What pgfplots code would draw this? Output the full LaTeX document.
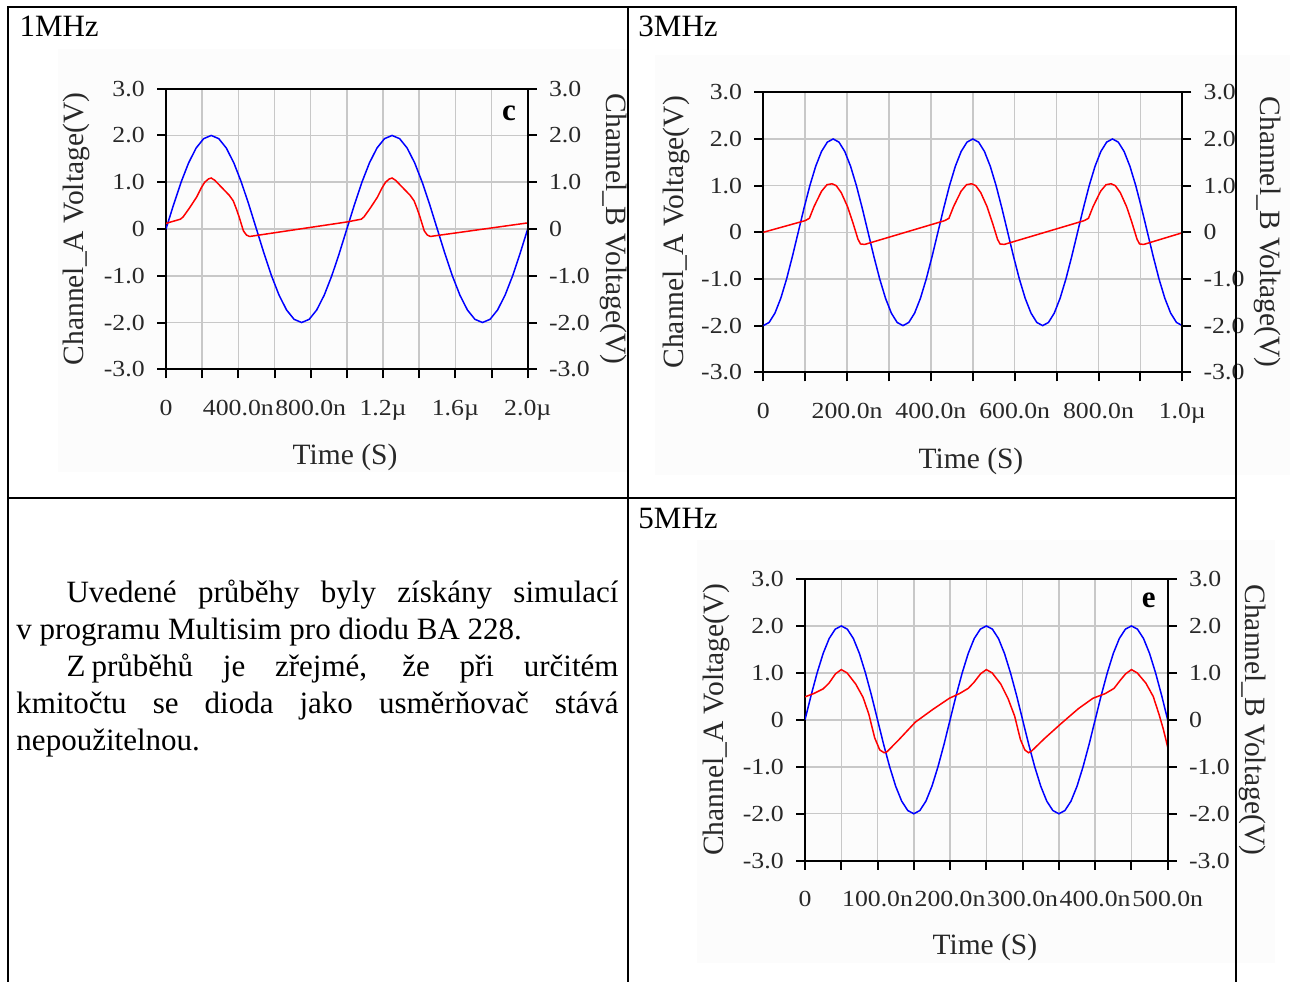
\documentclass[border=0pt]{standalone}
\usepackage{fontspec}
\setmainfont{Liberation Serif}
\newfontfamily\tickfont[FakeStretch=1.12]{Liberation Serif}
\usepackage{pgfplots}
\pgfplotsset{compat=1.18}
\definecolor{gridc}{RGB}{200,200,200}
\definecolor{bgc}{RGB}{252,252,252}
\definecolor{colA}{RGB}{0,0,255}
\definecolor{colB}{RGB}{255,0,0}
\definecolor{txt}{RGB}{40,40,40}

\pgfplotsset{
  base/.style={scale only axis, ymin=-3, ymax=3,
    ytick={-3,-2,-1,0,1,2,3},
    yticklabels={-3.0,-2.0,-1.0,0,1.0,2.0,3.0},
    tick align=outside, major tick length=3.6pt,
    every tick/.style={black, line width=0.8pt},
    axis line style={black, line width=0.8pt},
    tick label style={font=\tickfont\fontsize{9.2}{10}\selectfont, text=txt},
    label style={font=\fontsize{11.8}{13}\selectfont, text=txt},
    xticklabel shift=5.2pt, yticklabel shift=1.4pt,
  },
  mainax/.style={base, grid=major, grid style={gridc, line width=0.6pt},
    tick pos=left},
  secax/.style={base, axis x line=none, axis y line*=right},
  lineA/.style={colA, line width=0.6pt, mark=none},
  lineB/.style={colB, line width=0.6pt, mark=none},
}

\pgfplotstableread{
t v
0 0
41.7 0.518
83.3 1.0
125 1.414
166.7 1.732
208.3 1.932
250 2.0
291.7 1.932
333.3 1.732
375 1.414
416.7 1.0
458.3 0.518
500 0
541.7 -0.518
583.3 -1.0
625 -1.414
666.7 -1.732
708.3 -1.932
750 -2.0
791.7 -1.932
833.3 -1.732
875 -1.414
916.7 -1.0
958.3 -0.518
1000 0
1041.7 0.518
1083.3 1.0
1125 1.414
1166.7 1.732
1208.3 1.932
1250 2.0
1291.7 1.932
1333.3 1.732
1375 1.414
1416.7 1.0
1458.3 0.518
1500 0
1541.7 -0.518
1583.3 -1.0
1625 -1.414
1666.7 -1.732
1708.3 -1.932
1750 -2.0
1791.7 -1.932
1833.3 -1.732
1875 -1.414
1916.7 -1.0
1958.3 -0.518
2000 0
}\Aone

\pgfplotstableread{
t v
0 0.12
80 0.21
95 0.26
130 0.45
169 0.68
195 0.88
214 1.0
235 1.07
250 1.09
270 1.04
315 0.86
350 0.72
372 0.60
390 0.42
405 0.25
428 -0.04
445 -0.13
462 -0.16
480 -0.15
1000 0.15
1080 0.21
1095 0.26
1130 0.45
1169 0.68
1195 0.88
1214 1.0
1235 1.07
1250 1.09
1270 1.04
1315 0.86
1350 0.72
1372 0.60
1390 0.42
1405 0.25
1428 -0.04
1445 -0.13
1462 -0.16
1480 -0.15
2000 0.13
}\Bone

\pgfplotstableread{
t v
0 -2.0
13.9 -1.932
27.8 -1.732
41.7 -1.414
55.6 -1.0
69.4 -0.518
83.3 0
97.2 0.518
111.1 1.0
125 1.414
138.9 1.732
152.8 1.932
166.7 2.0
180.6 1.932
194.4 1.732
208.3 1.414
222.2 1.0
236.1 0.518
250 0
263.9 -0.518
277.8 -1.0
291.7 -1.414
305.6 -1.732
319.4 -1.932
333.3 -2.0
347.2 -1.932
361.1 -1.732
375 -1.414
388.9 -1.0
402.8 -0.518
416.7 0
430.6 0.518
444.4 1.0
458.3 1.414
472.2 1.732
486.1 1.932
500 2.0
513.9 1.932
527.8 1.732
541.7 1.414
555.6 1.0
569.4 0.518
583.3 0
597.2 -0.518
611.1 -1.0
625 -1.414
638.9 -1.732
652.8 -1.932
666.7 -2.0
680.6 -1.932
694.4 -1.732
708.3 -1.414
722.2 -1.0
736.1 -0.518
750 0
763.9 0.518
777.8 1.0
791.7 1.414
805.6 1.732
819.4 1.932
833.3 2.0
847.2 1.932
861.1 1.732
875 1.414
888.9 1.0
902.8 0.518
916.7 0
930.6 -0.518
944.4 -1.0
958.3 -1.414
972.2 -1.732
986.1 -1.932
1000 -2.0
}\Athree

\pgfplotstableread{
t v
0 0.0
100 0.25
110 0.30
121 0.55
139 0.88
152 1.02
164 1.04
174 1.00
186 0.85
201 0.55
214 0.20
226 -0.15
232 -0.25
242 -0.26
433 0.25
443 0.30
454 0.55
472 0.88
485 1.02
497 1.04
507 1.00
519 0.85
534 0.55
547 0.20
559 -0.15
565 -0.25
575 -0.26
766 0.25
776 0.30
787 0.55
805 0.88
818 1.02
830 1.04
840 1.00
852 0.85
867 0.55
880 0.20
892 -0.15
898 -0.25
908 -0.26
1000 -0.01
}\Bthree

\pgfplotstableread{
t v
0 0
8.3 0.518
16.7 1.0
25 1.414
33.3 1.732
41.7 1.932
50 2.0
58.3 1.932
66.7 1.732
75 1.414
83.3 1.0
91.7 0.518
100 0
108.3 -0.518
116.7 -1.0
125 -1.414
133.3 -1.732
141.7 -1.932
150 -2.0
158.3 -1.932
166.7 -1.732
175 -1.414
183.3 -1.0
191.7 -0.518
200 0
208.3 0.518
216.7 1.0
225 1.414
233.3 1.732
241.7 1.932
250 2.0
258.3 1.932
266.7 1.732
275 1.414
283.3 1.0
291.7 0.518
300 0
308.3 -0.518
316.7 -1.0
325 -1.414
333.3 -1.732
341.7 -1.932
350 -2.0
358.3 -1.932
366.7 -1.732
375 -1.414
383.3 -1.0
391.7 -0.518
400 0
408.3 0.518
416.7 1.0
425 1.414
433.3 1.732
441.7 1.932
450 2.0
458.3 1.932
466.7 1.732
475 1.414
483.3 1.0
491.7 0.518
500 0
}\Afive

\pgfplotstableread{
t v
0 0.49
12 0.56
25 0.66
33 0.78
42 0.98
50 1.07
58 1.0
70 0.76
80 0.48
88 0.12
96 -0.38
103 -0.64
109 -0.70
113 -0.68
129 -0.43
152 -0.05
176 0.22
199 0.46
213 0.56
225 0.67
233 0.80
242 0.98
250 1.07
258 1.0
270 0.76
280 0.45
289 0.08
297 -0.42
303 -0.64
308 -0.70
312 -0.67
330 -0.40
353 -0.08
377 0.24
397 0.46
414 0.56
426 0.67
435 0.85
442 0.98
450 1.07
458 1.0
470 0.78
480 0.50
488 0.12
494 -0.20
500 -0.58
}\Bfive

\begin{document}
\begin{tikzpicture}
\useasboundingbox (0,0) rectangle (516.4pt,-392.8pt);
\begin{scope}[x=0.4pt,y=-0.4pt]
  \fill[bgc] (58,49) rectangle (627,472);
  \fill[bgc] (655,55) rectangle (1290,475);
  \fill[bgc] (697,540) rectangle (1275,963);
\end{scope}

% ---------- 1 MHz ----------
\begin{axis}[mainax, at={(66.4pt,-35.48pt)}, anchor=north west,
  width=144.68pt, height=112.24pt, xmin=0, xmax=2000,
  xtick={0,200,...,2000},
  xticklabels={0,{},400.0n,{},800.0n,{},1.2µ,{},1.6µ,{},2.0µ},
  xlabel={Time (S)}, ylabel={Channel\_A Voltage(V)},
  xlabel style={at={(axis description cs:0.495,-0.315)}, anchor=center},
  ylabel style={at={(axis description cs:-0.247,0.5)}, anchor=center}]
  \addplot[lineA] table[x=t,y=v] {\Aone};
  \addplot[lineB] table[x=t,y=v] {\Bone};
  \node[font=\bfseries\fontsize{12.4}{14}\selectfont] at (axis description cs:0.948,0.913) {c};
\end{axis}
\begin{axis}[secax, at={(66.4pt,-35.48pt)}, anchor=north west,
  width=144.68pt, height=112.24pt, xmin=0, xmax=2000,
  ylabel={Channel\_B Voltage(V)},
  ylabel style={at={(axis description cs:1.2386,0.5)}, anchor=center, rotate=180}]
\end{axis}

% ---------- 3 MHz ----------
\begin{axis}[mainax, at={(305.32pt,-36.92pt)}, anchor=north west,
  width=167.6pt, height=112pt, xmin=0, xmax=1000,
  xtick={0,100,...,1000},
  xticklabels={0,{},200.0n,{},400.0n,{},600.0n,{},800.0n,{},1.0µ},
  xlabel={Time (S)}, ylabel={Channel\_A Voltage(V)},
  xlabel style={at={(axis description cs:0.4957,-0.318)}, anchor=center},
  ylabel style={at={(axis description cs:-0.2084,0.5)}, anchor=center}]
  \addplot[lineA] table[x=t,y=v] {\Athree};
  \addplot[lineB] table[x=t,y=v] {\Bthree};
\end{axis}
\begin{axis}[secax, at={(305.32pt,-36.92pt)}, anchor=north west,
  width=167.6pt, height=112pt, xmin=0, xmax=1000,
  ylabel={Channel\_B Voltage(V)},
  ylabel style={at={(axis description cs:1.2045,0.5)}, anchor=center, rotate=180}]
\end{axis}

% ---------- 5 MHz ----------
\begin{axis}[mainax, at={(322pt,-231.6pt)}, anchor=north west,
  width=145.08pt, height=112.68pt, xmin=0, xmax=500,
  xtick={0,50,...,500},
  xticklabels={0,{},100.0n,{},200.0n,{},300.0n,{},400.0n,{},500.0n},
  xlabel={Time (S)}, ylabel={Channel\_A Voltage(V)},
  xlabel style={at={(axis description cs:0.496,-0.308)}, anchor=center},
  ylabel style={at={(axis description cs:-0.245,0.5)}, anchor=center}]
  \addplot[lineA] table[x=t,y=v] {\Afive};
  \addplot[lineB] table[x=t,y=v] {\Bfive};
  \node[font=\bfseries\fontsize{12.4}{14}\selectfont] at (axis description cs:0.948,0.925) {e};
\end{axis}
\begin{axis}[secax, at={(322pt,-231.6pt)}, anchor=north west,
  width=145.08pt, height=112.68pt, xmin=0, xmax=500,
  ylabel={Channel\_B Voltage(V)},
  ylabel style={at={(axis description cs:1.235,0.5)}, anchor=center, rotate=180}]
\end{axis}

\begin{scope}[x=0.4pt,y=-0.4pt]
  \draw[line width=0.8pt] (8.5,982) -- (8.5,7) -- (1236.5,7) -- (1236.5,982);
  \draw[line width=0.8pt] (628.5,7) -- (628.5,982);
  \draw[line width=0.8pt] (8.5,498.5) -- (1236.5,498.5);
  \begin{scope}[every node/.style={anchor=base west, inner sep=0pt, font=\fontsize{12.4}{14}\selectfont}]
    \node at (19,37) {1MHz};
    \node at (638,37) {3MHz};
    \node at (638,529) {5MHz};
    \node at (66,603) {\makebox[220.8pt][s]{Uvedené průběhy byly získány simulací}};
    \node at (16,640) {v programu Multisim pro diodu BA 228.};
    \node at (66,677) {\makebox[220.8pt][s]{Z\hspace{0.2em}průběhů je zřejmé, že při určitém}};
    \node at (16,714) {\makebox[240.8pt][s]{kmitočtu se dioda jako usměrňovač stává}};
    \node at (16,751) {nepoužitelnou.};
  \end{scope}
\end{scope}
\end{tikzpicture}
\end{document}
